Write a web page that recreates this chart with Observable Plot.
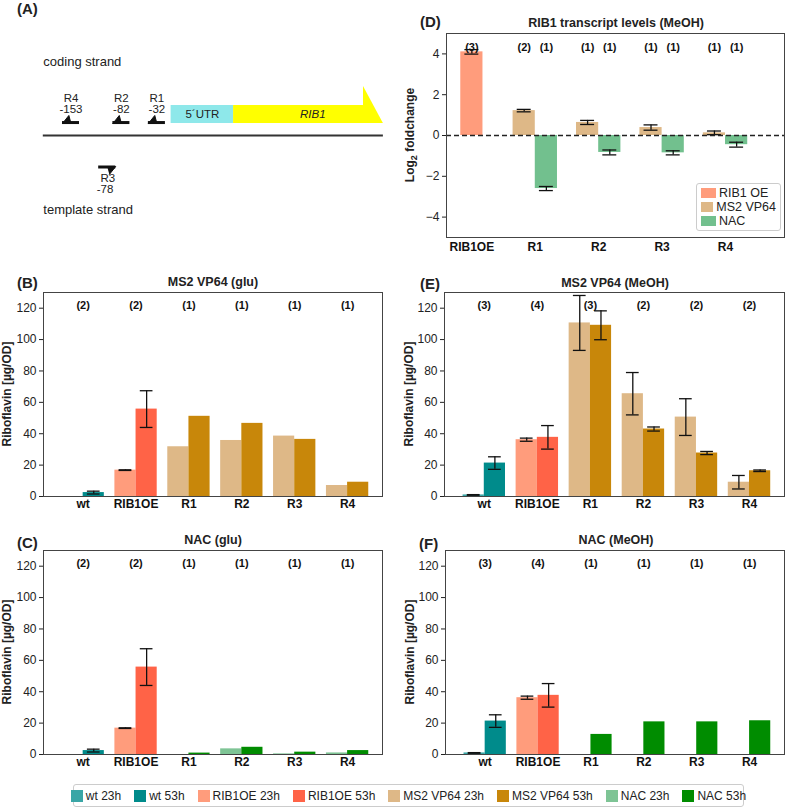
<!DOCTYPE html>
<html><head><meta charset="utf-8">
<script src="https://cdn.jsdelivr.net/npm/d3@7"></script>
<script src="https://cdn.jsdelivr.net/npm/@observablehq/plot@0.6"></script>
<style>
body{margin:0;background:#fff;}
#fig{position:relative;width:786px;height:807px;font-family:"Liberation Sans",Arial,sans-serif;color:#222;overflow:hidden}
.abs{position:absolute}
.letter{font-weight:bold;font-size:15px;transform:translateY(-50%);white-space:nowrap}
.title{font-weight:bold;font-size:12.5px;transform:translate(-50%,-50%);white-space:nowrap}
.ylab{font-weight:bold;font-size:12px;transform:translate(-50%,-50%) rotate(-90deg);white-space:nowrap}
.dleg{border:1px solid #ccc;border-radius:3px;background:#fff;padding:2px 4px;font-size:12.5px;line-height:14px}
.dleg .it,.bleg .it{display:flex;align-items:center;white-space:nowrap}
.sw{display:inline-block;margin-right:3px}
.bleg{border:1px solid #ccc;border-radius:3px;background:#fff;display:flex;justify-content:center;align-items:center;gap:13px;font-size:12px}
</style></head><body><div id="fig"></div>
<script>
// ---------- data ----------
const cats = ["wt", "RIB1OE", "R1", "R2", "R3", "R4"];
const seriesNames = ["wt 23h", "wt 53h", "RIB1OE 23h", "RIB1OE 53h", "MS2 VP64 23h", "MS2 VP64 53h", "NAC 23h", "NAC 53h"];
const seriesColors = ["#3aa6a6", "#008b8b", "#ff9c7c", "#ff6347", "#deb887", "#c8870a", "#7ec495", "#008c00"];

// (B) MS2 VP64 (glu)
const bMean23 = [0, 16.8, 31.7, 35.7, 38.5, 7.0];
const bMean53 = [2.5, 55.7, 51.1, 46.6, 36.4, 9.1];
const bErr23 = [null, 0.2, null, null, null, null];
const bErr53 = [0.9, 11.7, null, null, null, null];
const bN = [2, 2, 1, 1, 1, 1];

// (C) NAC (glu)
const cMean23 = [0, 16.8, 0, 3.6, 0.4, 1.0];
const cMean53 = [2.5, 55.7, 0.9, 4.6, 1.5, 2.5];
const cErr23 = [null, 0.2, null, null, null, null];
const cErr53 = [0.9, 11.7, null, null, null, null];
const cN = [2, 2, 1, 1, 1, 1];

// (E) MS2 VP64 (MeOH)
const eMean23 = [1.0, 36.2, 110.6, 65.5, 50.6, 9.1];
const eMean53 = [21.3, 37.7, 109.1, 43.0, 27.7, 16.4];
const eErr23 = [0.2, 1.0, 17.5, 13.5, 11.7, 4.3];
const eErr53 = [4.0, 7.5, 9.2, 1.3, 1.0, 0.5];
const eN = [3, 4, 3, 2, 2, 2];

// (F) NAC (MeOH)
const fMean23 = [1.0, 36.2, 0, 0, 0, 0];
const fMean53 = [21.3, 37.7, 12.8, 20.8, 20.8, 21.5];
const fErr23 = [0.2, 1.0, null, null, null, null];
const fErr53 = [4.0, 7.5, null, null, null, null];
const fN = [3, 4, 1, 1, 1, 1];

// (D) RIB1 transcript levels (MeOH), log2 fold change
const dCats = ["RIB1OE", "R1", "R2", "R3", "R4"];
const dSeries = ["RIB1 OE", "MS2 VP64", "NAC"];
const dColors = ["#ff9c7c", "#deb887", "#72c08e"];
const dOE = [4.10], dOEerr = [0.11], dOEn = [3];
const dMS2 = [null, 1.22, 0.64, 0.39, 0.13];
const dMS2err = [null, 0.06, 0.10, 0.13, 0.09];
const dMS2n = [null, 2, 1, 1, 1];
const dNAC = [null, -2.60, -0.83, -0.85, -0.45];
const dNACerr = [null, 0.10, 0.12, 0.10, 0.12];
const dNACn = [null, 1, 1, 1, 1];

// (A) schematic, positions in bp relative to the 5'UTR start
const guides = [
  {name: "R4", pos: -153, strand: "coding"},
  {name: "R2", pos: -82, strand: "coding"},
  {name: "R1", pos: -32, strand: "coding"},
  {name: "R3", pos: -78, strand: "template"}
];
const features = [{name: "5´UTR", start: 0, end: 88}, {name: "RIB1", start: 88, end: 299}];
const locus = [-180, 299];

// ---------- helpers ----------
const fig = document.getElementById("fig");
const FONT = "'Liberation Sans', Arial, sans-serif";
function place(el, left, top) {
  el.style.position = "absolute"; el.style.left = left + "px"; el.style.top = top + "px";
  fig.appendChild(el);
}
function html(cls, text, left, top) {
  const d = document.createElement("div");
  d.className = "abs " + cls; d.innerHTML = text;
  d.style.left = left + "px"; d.style.top = top + "px";
  fig.appendChild(d);
}
const style = {fontSize: "12px", fontFamily: FONT, color: "#222", background: "transparent", overflow: "visible"};

function barPanel(mean23, mean53, err23, err53, n, eff, ml, mr) {
  const data = [];
  cats.forEach((c, i) => {
    const g = i === 0 ? "wt" : i === 1 ? "RIB1OE" : eff;
    data.push({i, off: -0.4, v: mean23[i], e: err23[i], s: g + " 23h"});
    data.push({i, off: 0, v: mean53[i], e: err53[i], s: g + " 53h"});
  });
  const errs = data.filter(d => d.e != null);
  const xc = d => d.i + d.off + 0.2;
  return Plot.plot({
    width: 393, height: 250, marginLeft: ml, marginRight: mr, marginTop: 22, marginBottom: 24,
    style,
    x: {domain: [-0.75, 5.66], axis: null},
    y: {domain: [0, 130], ticks: d3.range(0, 121, 20), tickSize: 4, tickPadding: 3, label: null},
    color: {domain: seriesNames, range: seriesColors},
    marks: [
      Plot.rect(data, {x1: d => d.i + d.off, x2: d => d.i + d.off + 0.4, y1: 0, y2: "v", fill: "s"}),
      Plot.ruleX(errs, {x: xc, y1: d => d.v - d.e, y2: d => d.v + d.e, stroke: "#111", strokeWidth: 1.3}),
      Plot.ruleY(errs, {y: d => d.v - d.e, x1: d => xc(d) - 0.12, x2: d => xc(d) + 0.12, stroke: "#111", strokeWidth: 1.3}),
      Plot.ruleY(errs, {y: d => d.v + d.e, x1: d => xc(d) - 0.12, x2: d => xc(d) + 0.12, stroke: "#111", strokeWidth: 1.3}),
      Plot.text(n, {x: (d, i) => i, text: d => `(${d})`, frameAnchor: "top", dy: 9, fontWeight: "bold", fontSize: 11, fill: "#111"}),
      Plot.text(cats, {x: (d, i) => i, text: d => d, frameAnchor: "bottom", dy: 11, fontWeight: "bold", fontSize: 12, fill: "#111"}),
      Plot.frame({stroke: "#444"})
    ]
  });
}

// ---------- panel A ----------
const coding = guides.filter(g => g.strand === "coding");
const templ = guides.filter(g => g.strand === "template");
const utr = features.filter(f => f.name === "5´UTR");
const gene = features.filter(f => f.name === "RIB1");
const headLen = 28;
const tri = [];
coding.forEach(g => tri.push(
  {name: g.name, x: g.pos, y: 0.333}, {name: g.name, x: g.pos + 9, y: 0.556}, {name: g.name, x: g.pos + 12, y: 0.333}));
templ.forEach(g => tri.push(
  {name: g.name, x: g.pos - 12, y: -0.861}, {name: g.name, x: g.pos, y: -0.861}, {name: g.name, x: g.pos - 9, y: -1.083}));
const head = gene.flatMap(f => [{x: f.end - headLen, top: 1.36}, {x: f.end, top: 0.333}]);

const pA = Plot.plot({
  width: 393, height: 230, style,
  x: {domain: [0, 100], range: [170.6, 241.6], axis: null},
  y: {domain: [0, 1], range: [135, 99], axis: null},
  marks: [
    Plot.rect(utr, {x1: "start", x2: "end", y1: 0.333, y2: 0.833, fill: "#8ee8ea"}),
    Plot.rect(gene, {x1: "start", x2: d => d.end - headLen, y1: 0.333, y2: 0.833, fill: "#ffff00"}),
    Plot.areaY(head, {x: "x", y1: 0.333, y2: "top", fill: "#ffff00"}),
    Plot.text(utr, {x: d => (d.start + d.end) / 2, y: 0.583, text: "name", fontSize: 11.5, fill: "#222"}),
    Plot.text(gene, {x: d => (d.start + d.end) / 2 + 6, y: 0.583, text: "name", fontSize: 11.5, fontStyle: "italic", fill: "#222"}),
    Plot.ruleY([0], {x1: () => locus[0], x2: () => locus[1], stroke: "#333", strokeWidth: 2}),
    Plot.ruleY(coding, {y: 0.36, x1: d => d.pos, x2: d => d.pos + 24, stroke: "#111", strokeWidth: 3}),
    Plot.ruleY(templ, {y: -0.875, x1: d => d.pos - 24, x2: d => d.pos, stroke: "#111", strokeWidth: 3}),
    Plot.line(tri, {x: "x", y: "y", z: "name", fill: "#111", stroke: "#111", strokeWidth: 1}),
    Plot.text(coding, {x: d => d.pos + 12, y: 1.03, text: "name", fontSize: 11.5, fill: "#222"}),
    Plot.text(coding, {x: d => d.pos + 12, y: 0.72, text: d => String(d.pos), fontSize: 11.5, fill: "#222"}),
    Plot.text(templ, {x: d => d.pos - 11, y: -1.19, text: "name", fontSize: 11.5, fill: "#222"}),
    Plot.text(templ, {x: d => d.pos - 15, y: -1.5, text: d => String(d.pos), fontSize: 11.5, fill: "#222"}),
    Plot.text(["coding strand"], {x: () => locus[0], y: 2.06, text: d => d, textAnchor: "start", fontSize: 13, fill: "#222"}),
    Plot.text(["template strand"], {x: () => locus[0], y: -2.06, text: d => d, textAnchor: "start", fontSize: 13, fill: "#222"})
  ]
});
place(pA, 0, 0);

// ---------- panel D ----------
const dData = [{i: 0, off: -0.175, v: dOE[0], e: dOEerr[0], n: dOEn[0], s: "RIB1 OE"}];
dCats.forEach((c, i) => {
  if (dMS2[i] != null) dData.push({i, off: -0.35, v: dMS2[i], e: dMS2err[i], n: dMS2n[i], s: "MS2 VP64"});
  if (dNAC[i] != null) dData.push({i, off: 0, v: dNAC[i], e: dNACerr[i], n: dNACn[i], s: "NAC"});
});
const dxc = d => d.i + d.off + 0.175;
const pD = Plot.plot({
  width: 393, height: 270, marginLeft: 53, marginRight: 2, marginTop: 33, marginBottom: 33,
  style,
  x: {domain: [-0.4, 4.93], axis: null},
  y: {domain: [-5, 5], ticks: [-4, -2, 0, 2, 4], tickFormat: d3.format("d"), tickSize: 4, tickPadding: 3, label: null},
  color: {domain: dSeries, range: dColors},
  marks: [
    Plot.rect(dData, {x1: d => d.i + d.off, x2: d => d.i + d.off + 0.35, y1: 0, y2: "v", fill: "s"}),
    Plot.ruleX(dData, {x: dxc, y1: d => d.v - d.e, y2: d => d.v + d.e, stroke: "#111", strokeWidth: 1.3}),
    Plot.ruleY(dData, {y: d => d.v - d.e, x1: d => dxc(d) - 0.11, x2: d => dxc(d) + 0.11, stroke: "#111", strokeWidth: 1.3}),
    Plot.ruleY(dData, {y: d => d.v + d.e, x1: d => dxc(d) - 0.11, x2: d => dxc(d) + 0.11, stroke: "#111", strokeWidth: 1.3}),
    Plot.ruleY([0], {stroke: "#222", strokeWidth: 1.6, strokeDasharray: "5,3"}),
    Plot.text(dData, {x: dxc, text: d => `(${d.n})`, frameAnchor: "top", dy: 10, fontWeight: "bold", fontSize: 11, fill: "#111"}),
    Plot.text(dCats, {x: (d, i) => i, text: d => d, frameAnchor: "bottom", dy: 13, fontWeight: "bold", fontSize: 12, fill: "#111"}),
    Plot.frame({stroke: "#444"})
  ]
});
place(pD, 393, 0);

// ---------- panels B, C, E, F ----------
place(barPanel(bMean23, bMean53, bErr23, bErr53, bN, "MS2 VP64", 43, 11), 0, 270);
place(barPanel(eMean23, eMean53, eErr23, eErr53, eN, "MS2 VP64", 51, 2), 393, 270);
place(barPanel(cMean23, cMean53, cErr23, cErr53, cN, "NAC", 43, 11), 0, 528);
place(barPanel(fMean23, fMean53, fErr23, fErr53, fN, "NAC", 52, 2), 393, 528);

// ---------- labels ----------
html("letter", "(A)", 17, 8);
html("letter", "(B)", 17, 282);
html("letter", "(C)", 17, 542);
html("letter", "(D)", 420, 21);
html("letter", "(E)", 420, 283);
html("letter", "(F)", 419, 543);
html("title", "MS2 VP64 (glu)", 213, 282);
html("title", "NAC (glu)", 213, 540);
html("title", "RIB1 transcript levels (MeOH)", 616, 23);
html("title", "MS2 VP64 (MeOH)", 615, 283);
html("title", "NAC (MeOH)", 616, 540);
html("ylab", "Riboflavin [µg/OD]", 7, 394);
html("ylab", "Riboflavin [µg/OD]", 7, 652);
html("ylab", "Riboflavin [µg/OD]", 409, 394);
html("ylab", "Riboflavin [µg/OD]", 410, 652);
html("ylab", "Log<sub style='font-size:9px'>2</sub> foldchange", 411, 135);

// D legend
const dl = document.createElement("div");
dl.className = "dleg";
dl.innerHTML = dSeries.map((s, k) =>
  `<div class="it"><span class="sw" style="width:15px;height:10px;background:${dColors[k]}"></span>${s}</div>`).join("");
dl.style.width = "75px";
place(dl, 696, 183);

// bottom legend
const bl = document.createElement("div");
bl.className = "bleg";
bl.style.width = "669px"; bl.style.height = "21px";
bl.innerHTML = seriesNames.map((s, k) =>
  `<div class="it"><span class="sw" style="width:12px;height:12px;background:${seriesColors[k]}"></span>${s}</div>`).join("");
place(bl, 73, 784);
</script></body></html>
